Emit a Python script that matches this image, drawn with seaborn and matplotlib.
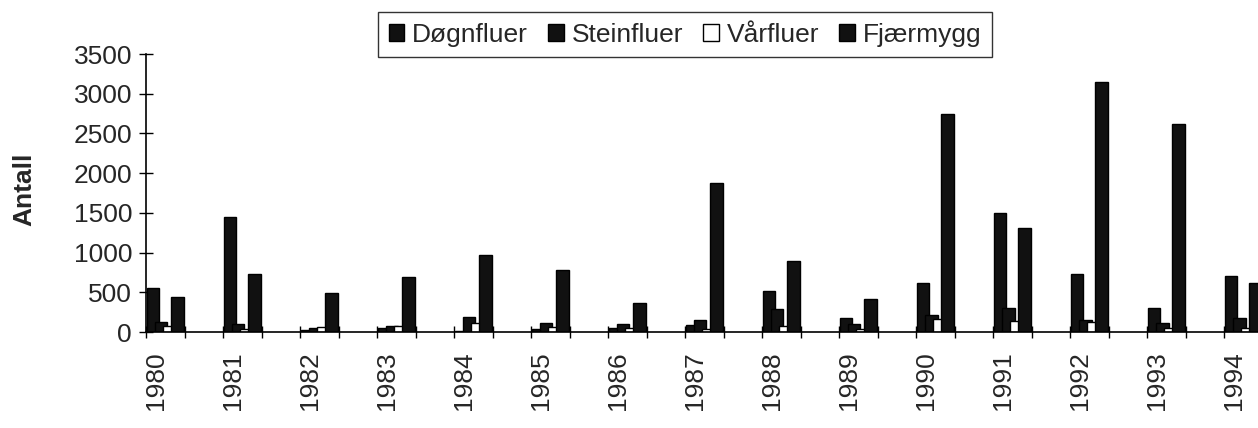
import numpy as np
import pandas as pd
import matplotlib
matplotlib.use("Agg")
import matplotlib.pyplot as plt
import seaborn as sns

# ─────────────────────────────────────────────
# DATA  (antall per år)
# ─────────────────────────────────────────────
YEARS      = [1980, 1981, 1982, 1983, 1984, 1985, 1986, 1987,
              1988, 1989, 1990, 1991, 1992, 1993, 1994]
DOGNFLUER  = [550, 1450, 30, 45, 10, 40, 45, 90, 510, 170, 620, 1500, 730, 305, 700]
STEINFLUER = [130, 105, 55, 80, 195, 115, 105, 145, 295, 105, 215, 300, 150, 110, 170]
VARFLUER   = [75, 40, 60, 70, 110, 60, 50, 40, 80, 35, 160, 140, 125, 55, 50]
FJAERMYGG  = [445, 735, 490, 690, 965, 780, 360, 1880, 900, 410, 2750, 1305, 3150, 2625, 620]

SERIES  = ["Døgnfluer", "Steinfluer", "Vårfluer", "Fjærmygg"]
COLORS  = ["#111111", "#111111", "#ffffff", "#111111"]
Y_TICKS = [0, 500, 1000, 1500, 2000, 2500, 3000, 3500]

# every year is followed by an empty slot on the category axis
SLOTS = []
for y in YEARS:
    SLOTS += [str(y), str(y) + " "]

df = pd.DataFrame({"år": [str(y) for y in YEARS],
                   SERIES[0]: DOGNFLUER, SERIES[1]: STEINFLUER,
                   SERIES[2]: VARFLUER, SERIES[3]: FJAERMYGG})
long = df.melt(id_vars="år", var_name="gruppe", value_name="antall")

# ─────────────────────────────────────────────
# PLOT
# ─────────────────────────────────────────────
sns.set_style("white")
plt.rcParams["font.family"] = ["Liberation Sans", "DejaVu Sans"]

fig = plt.figure(figsize=(12.58, 4.28), dpi=100)
ax = fig.add_axes([146 / 1258, 96 / 428, 1112 / 1258, 278 / 428])

sns.barplot(data=long, x="år", y="antall", hue="gruppe", order=SLOTS,
            hue_order=SERIES, palette=COLORS, saturation=1, width=0.85,
            edgecolor="black", linewidth=1, errorbar=None, ax=ax)

# Excel-style overlapping bars: widen each bar around its centre
for cont in ax.containers:
    for bar in cont:
        c = bar.get_x() + bar.get_width() / 2
        w = bar.get_width() * 1.53
        bar.set_x(c - w / 2)
        bar.set_width(w)

ax.set_yticks(Y_TICKS)
ax.set_xticks([2 * i - 0.25 for i in range(len(YEARS))])
ax.set_xticklabels([str(y) for y in YEARS], rotation=90)
ax.set_xticks(np.arange(-0.5, len(SLOTS), 1), minor=True)
# limits after the ticks, otherwise set_xticks widens the view
ax.set_ylim(0, 3500)
ax.set_xlim(-0.5, 28.38)

ax.tick_params(axis="x", which="major", length=0, pad=14, labelsize=19)
ax.tick_params(axis="x", which="minor", direction="inout", length=9,
               width=1, color="black", bottom=True)
ax.tick_params(axis="y", direction="inout", length=10, width=1,
               color="black", pad=5, labelsize=19, left=True)

for s in ["top", "right"]:
    ax.spines[s].set_visible(False)
for s in ["left", "bottom"]:
    ax.spines[s].set_color("black")
    ax.spines[s].set_linewidth(1.2)

ax.set_xlabel("")
ax.set_ylabel("Antall", fontsize=19, fontweight="bold")
ax.yaxis.set_label_coords(-0.099, 0.514)

handles, labels = ax.get_legend_handles_labels()
ax.get_legend().remove()
leg = fig.legend(handles, labels, loc="upper center", ncol=4,
                 bbox_to_anchor=(685 / 1258, 0.972), fontsize=19,
                 frameon=True, fancybox=False, edgecolor="black",
                 handlelength=0.6, handleheight=0.6, handletextpad=0.3,
                 columnspacing=0.75, borderpad=0.4, borderaxespad=0)
leg.get_frame().set_linewidth(1)

fig.savefig("out.png", dpi=100)
